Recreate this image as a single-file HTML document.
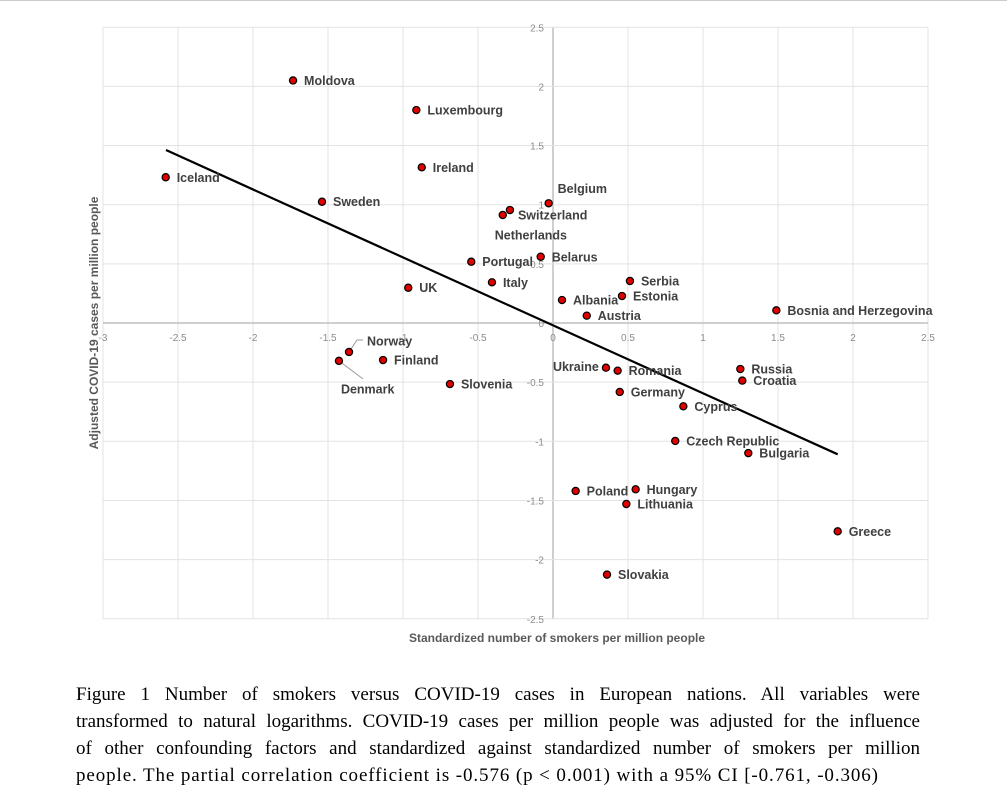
<!DOCTYPE html>
<html><head><meta charset="utf-8"><style>
body{margin:0;background:#fff;width:1007px;height:794px;overflow:hidden;position:relative}
#cap{position:absolute;left:76px;top:681px;width:844px;font-family:"Liberation Serif",serif;font-size:19px;line-height:27px;color:#000}
#cap .j{display:block;text-align:justify;text-align-last:justify}
#cap .j.last{text-align-last:left;letter-spacing:0.9px;white-space:nowrap}
</style></head><body>
<div style="position:absolute;left:0;top:0;width:1007px;height:1px;background:#ccc"></div>
<svg id="chart" width="1007" height="670" style="position:absolute;left:0;top:0"></svg>
<div id="cap"><span class="j">Figure 1 Number of smokers versus COVID-19 cases in European nations. All variables were</span><span class="j">transformed to natural logarithms. COVID-19 cases per million people was adjusted for the influence</span><span class="j">of other confounding factors and standardized against standardized number of smokers per million</span><span class="j last">people. The partial correlation coefficient is -0.576 (p &lt; 0.001) with a 95% CI [-0.761, -0.306)</span></div>
<script>
const countries=["Moldova","Luxembourg","Ireland","Iceland","Sweden","Belgium","Netherlands","Switzerland","Portugal","Belarus","Italy","UK","Albania","Austria","Serbia","Estonia","Bosnia and Herzegovina","Norway","Denmark","Finland","Slovenia","Ukraine","Romania","Germany","Cyprus","Czech Republic","Bulgaria","Russia","Croatia","Poland","Hungary","Lithuania","Greece","Slovakia"];
const xs=[-1.733,-0.911,-0.875,-2.582,-1.54,-0.029,-0.335,-0.287,-0.545,-0.082,-0.407,-0.965,0.06,0.225,0.513,0.46,1.489,-1.36,-1.427,-1.133,-0.687,0.353,0.431,0.445,0.869,0.815,1.302,1.249,1.262,0.151,0.551,0.489,1.898,0.36];
const ys=[2.05,1.80,1.316,1.232,1.025,1.012,0.913,0.955,0.518,0.56,0.344,0.298,0.194,0.062,0.355,0.228,0.107,-0.245,-0.32,-0.313,-0.516,-0.378,-0.403,-0.583,-0.704,-0.997,-1.10,-0.389,-0.487,-1.42,-1.406,-1.53,-1.761,-2.127];
const xTicks=[-3,-2.5,-2,-1.5,-1,-0.5,0,0.5,1,1.5,2,2.5];
const yTicks=[2.5,2,1.5,1,0.5,0,-0.5,-1,-1.5,-2,-2.5];
const trendX=[-2.58,1.898];
const trendY=[1.462,-1.11];
const off={"Belgium":[9,-15],"Netherlands":[-8,20],"Switzerland":[8,5],"Ukraine":[-53,-1],"Norway":[18,-11],"Denmark":[2,28]};
const NS="http://www.w3.org/2000/svg";
const svg=document.getElementById('chart');
const X=v=>553+v*150, Y=v=>323-v*118.3;
function mk(t,a){const e=document.createElementNS(NS,t);for(const k in a)e.setAttribute(k,a[k]);svg.appendChild(e);return e;}
xTicks.forEach(t=>{const g=mk('line',{x1:X(t),x2:X(t),y1:Y(2.5),y2:Y(-2.5),stroke:t===0?'#bfbfbf':'#e3e3e3','stroke-width':t===0?1.5:1});


const l=mk('text',{x:X(t),y:341,'text-anchor':'middle','font-size':10,fill:'#8c8c8c','font-family':'Liberation Sans, sans-serif'});l.textContent=String(t);

});
yTicks.forEach(t=>{const g=mk('line',{x1:X(-3),x2:X(2.5),y1:Y(t),y2:Y(t),stroke:t===0?'#bfbfbf':'#e3e3e3','stroke-width':t===0?1.5:1});


const l=mk('text',{x:544,y:Y(t)+4,'text-anchor':'end','font-size':10,fill:'#8c8c8c','font-family':'Liberation Sans, sans-serif'});l.textContent=String(t);

});
const tl=mk('line',{x1:X(trendX[0]),y1:Y(trendY[0]),x2:X(trendX[1]),y2:Y(trendY[1]),stroke:'#000','stroke-width':2.2});


const ln1=mk('polyline',{points:`${X(xs[17])},${Y(ys[17])} ${X(xs[17])+8},${Y(ys[17])-12} ${X(xs[17])+14},${Y(ys[17])-12}`,fill:'none',stroke:'#999','stroke-width':1});


const ln2=mk('line',{x1:X(xs[18]),y1:Y(ys[18]),x2:X(xs[18])+24,y2:Y(ys[18])+18,stroke:'#999','stroke-width':1});


countries.forEach((c,i)=>{const cx=X(xs[i]),cy=Y(ys[i]);
const d=mk('circle',{cx:cx,cy:cy,r:3.6,fill:'#e00000',stroke:'#000','stroke-width':1.2});


const o=off[c]||[11,0];
const l=mk('text',{x:cx+o[0],y:cy+o[1]+4.5,'font-size':12.5,'font-weight':'bold',fill:'#404040','font-family':'Liberation Sans, sans-serif'});l.textContent=c;

});
const xt=mk('text',{x:557,y:642,'text-anchor':'middle','font-size':12,'font-weight':'bold',fill:'#595959','font-family':'Liberation Sans, sans-serif'});xt.textContent='Standardized number of smokers per million people';


const yt=mk('text',{x:0,y:0,transform:'translate(98,323) rotate(-90)','text-anchor':'middle','font-size':12,'font-weight':'bold',fill:'#595959','font-family':'Liberation Sans, sans-serif'});yt.textContent='Adjusted COVID-19 cases per million people';


</script>
</body></html>
